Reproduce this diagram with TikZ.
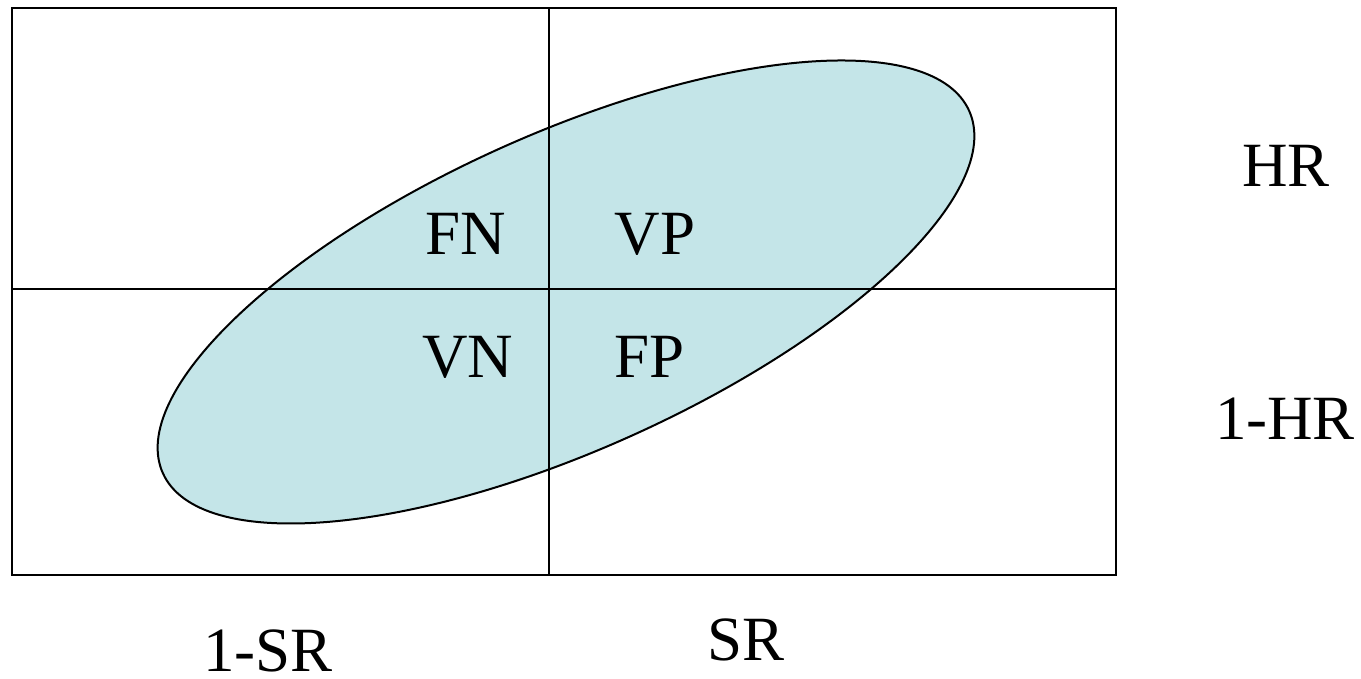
\documentclass[tikz,border=0pt]{standalone}
\usepackage{fontspec}
\setmainfont{Liberation Serif}
\definecolor{ellfill}{RGB}{196,229,232}
\begin{document}
\begin{tikzpicture}[x=1pt,y=1pt,
  lbl/.style={anchor=base,inner sep=0pt,font=\fontsize{63}{70}\selectfont},
  frame/.style={line width=2.6pt},
  ell/.style={line width=2pt,fill=ellfill,draw=black}]
\useasboundingbox (0,0) rectangle (1361,679);
\fill[white] (0,0) rectangle (1361,679);
% ellipse
\draw[ell,rotate around={24.2:(566,387)}] (566,387) ellipse [x radius=442, y radius=158];
% frame and dividers
\draw[frame] (12,104) rectangle (1116,671);
\draw[frame] (549,104) -- (549,671);
\draw[frame] (12,390) -- (1116,390);
% labels
\node[lbl] (fn) at (466,424) {FN};
\node[lbl] (vp) at (655,424) {VP};
\node[lbl] (vn) at (468,301) {VN};
\node[lbl] (fp) at (650,301) {FP};
\node[lbl] (hr) at (1286,492) {HR};
\node[lbl] (nhr) at (1285,239) {1-HR};
\node[lbl] (nsr) at (268,7) {1-SR};
\node[lbl] (sr) at (746,18) {SR};
\end{tikzpicture}
\end{document}
